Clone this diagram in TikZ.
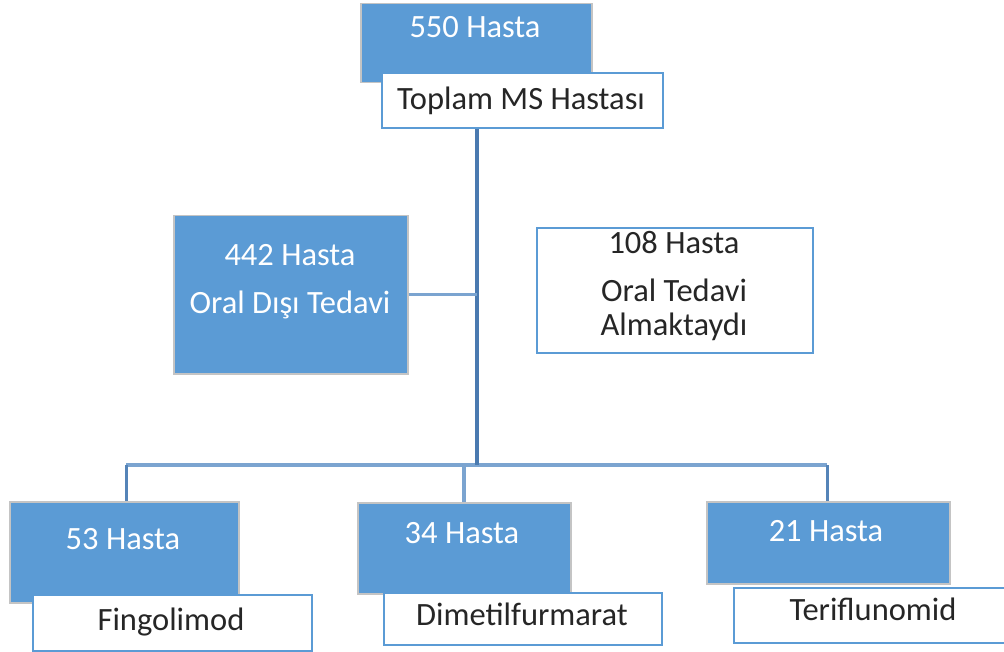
\documentclass[tikz,border=0pt]{standalone}
\usepackage{fontspec}
\setmainfont{Carlito}
\definecolor{boxblue}{HTML}{5B9BD5}
\definecolor{grayedge}{HTML}{C4C4C4}
\definecolor{trunkc}{HTML}{4A7AB0}
\definecolor{linec}{HTML}{7BA4D0}
\definecolor{dropc}{HTML}{5584B8}
\tikzset{
  bluebox/.style={draw=grayedge, line width=1.5pt, fill=boxblue, inner sep=0pt, anchor=north west},
  whitebox/.style={draw=boxblue, line width=2pt, fill=white, inner sep=0pt, anchor=north west},
  wtxt/.style={text=white, anchor=base, inner sep=0pt, font=\fontsize{32.5}{35}\selectfont},
  btxt/.style={text=black!85, anchor=base, inner sep=0pt, font=\fontsize{32.5}{35}\selectfont},
  trunk/.style={draw=trunkc, line width=4.5pt},
  branch/.style={draw=linec, line width=3.5pt},
  bus/.style={draw=linec, line width=3.5pt},
  drop/.style={draw=dropc, line width=3pt},
  dropl/.style={draw=linec, line width=3.5pt}
}
\begin{document}
\begin{tikzpicture}[x=1pt,y=-1pt]
\useasboundingbox (0,0) rectangle (1004,652);
\clip (0,0) rectangle (1004,652);
\coordinate (busc) at (477,465);
\coordinate (d53) at (126,465);
\coordinate (d34) at (464,465);
\coordinate (d21) at (827,465);
% connectors first
\draw[bus] (d53) -- (d21);
% top
\node[bluebox, minimum width=231pt, minimum height=79pt] (b550) at (360,3) {};
\node[whitebox, minimum width=281pt, minimum height=55pt] (topw) at (381,72) {};
\node[wtxt] (t550) at (475,38) {550 Hasta};
\node[btxt] (ttop) at (521,110) {Toplam MS Hastası};
% middle
\node[bluebox, minimum width=234pt, minimum height=158pt] (b442) at (173,215) {};
\node[wtxt] (t442a) at (290,266) {442 Hasta};
\node[wtxt] (t442b) at (290,313) {Oral Dışı Tedavi};
\node[whitebox, minimum width=276pt, minimum height=125pt] (b108) at (536,227) {};
\node[btxt] (t108a) at (674,254) {108 Hasta};
\node[btxt] (t108b) at (674,302) {Oral Tedavi};
\node[btxt] (t108c) at (674,335) {Almaktaydı};
% bottom
\node[bluebox, minimum width=229pt, minimum height=101pt] (b53) at (9,501) {};
\node[whitebox, minimum width=279pt, minimum height=56pt] (w53) at (32,594) {};
\node[wtxt] (t53) at (123,549) {53 Hasta};
\node[btxt] (tf) at (171,630) {Fingolimod};
\node[bluebox, minimum width=213pt, minimum height=91pt] (b34) at (357,502) {};
\node[whitebox, minimum width=278pt, minimum height=52pt] (w34) at (383,592) {};
\node[wtxt] (t34) at (462,543) {34 Hasta};
\node[btxt] (td) at (522,625) {Dimetilfurmarat};
\node[bluebox, minimum width=243pt, minimum height=82pt] (b21) at (706,501) {};
\node[whitebox, minimum width=290pt, minimum height=55pt] (w21) at (733,587) {};
\node[wtxt] (t21) at (826,541) {21 Hasta};
\node[btxt] (tt) at (873,620) {Teriflunomid};
% remaining connectors
\draw[trunk] (topw.south -| busc) -- (busc);
\draw[branch] (b442.east) -- (b442.east -| busc);
\draw[drop] (d53) -- (b53.north -| d53);
\draw[dropl] (d34) -- (b34.north -| d34);
\draw[drop] (d21) -- (b21.north -| d21);
\end{tikzpicture}
\end{document}
